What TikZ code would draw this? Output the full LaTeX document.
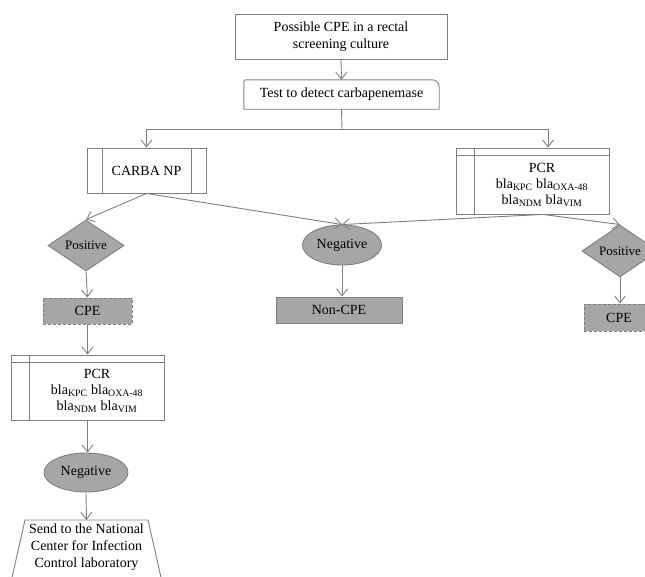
\documentclass[tikz,border=0pt]{standalone}
\usepackage{fontspec}
\setmainfont{Liberation Serif}
\usetikzlibrary{arrows.meta,shapes.geometric}
\definecolor{linegray}{HTML}{7F7F7F}
\definecolor{fillgray}{HTML}{A6A6A6}
\tikzset{
  base/.style={font=\rmfamily\fontsize{14}{17}\selectfont, align=center, inner sep=0pt, text=black},
  plainbox/.style={base, draw=linegray, line width=0.9pt, rectangle, fill=white},
  graybox/.style={base, draw=linegray, line width=0.9pt, rectangle, fill=fillgray},
  dashbox/.style={graybox, dashed, dash pattern=on 3pt off 2pt},
  decide/.style={base, draw=linegray, line width=0.9pt, diamond, fill=fillgray, font=\rmfamily\fontsize{13}{15}\selectfont},
  oval/.style={base, draw=linegray, line width=0.9pt, ellipse, fill=fillgray},
  conn/.style={draw=linegray, line width=0.9pt},
  arr/.style={conn, -{Straight Barb[length=7pt,width=11pt]}},
  frame/.style={draw=linegray, line width=0.9pt}
}
\newcommand{\blaitem}[1]{bla\textsubscript{#1}}
\begin{document}
\begin{tikzpicture}[x=1pt,y=-1pt]
\useasboundingbox (0,0) rectangle (645,576);
\clip (0,0) rectangle (645,576);

% top box
\node[plainbox, minimum width=212pt, minimum height=45pt] (top) at (341,36.5)
  {Possible CPE in a rectal\\screening culture};

% test box (rounded top corners)
\node[base, minimum width=195pt, minimum height=29pt] (test) at (341.5,94.5)
  {Test to detect carbapenemase};
\draw[frame] (test.south west) [rounded corners=2pt] -- (test.north west)
  [rounded corners=7pt] -- (test.north east) [sharp corners] -- (test.south east) -- cycle;

% CARBA NP
\node[plainbox, minimum width=119pt, minimum height=45pt] (carba) at (146.5,170.5) {CARBA NP};
\draw[frame] ([xshift=15.5pt]carba.north west) -- ([xshift=15.5pt]carba.south west);
\draw[frame] ([xshift=-15pt]carba.north east) -- ([xshift=-15pt]carba.south east);

% PCR right
\node[plainbox, minimum width=153pt, minimum height=66pt] (pcr) at (532.5,181) {};
\draw[frame] ([xshift=19pt]pcr.north west) -- ([xshift=19pt]pcr.south west);
\draw[frame] ([yshift=-8pt]pcr.north west) -- ([yshift=-8pt]pcr.north east);
\node[base, font=\rmfamily\fontsize{14}{16}\selectfont] (pcrtext) at (542,185)
  {PCR\\\blaitem{KPC} \blaitem{OXA-48}\\\blaitem{NDM} \blaitem{VIM}};

% decisions and results
\node[decide, minimum width=76pt, minimum height=51pt] (posL) at (86,245.5) {Positive};
\node[oval, minimum width=79pt, minimum height=40pt] (neg) at (342,245) {Negative};
\node[decide, minimum width=76pt, minimum height=52pt] (posR) at (620,251) {Positive};

\node[graybox, minimum width=126pt, minimum height=26pt] (noncpe) at (339,310) {Non-CPE};
\node[dashbox, minimum width=89pt, minimum height=26pt] (cpeL) at (87.5,311) {CPE};
\node[dashbox, minimum width=70pt, minimum height=27pt] (cpeR) at (619,317.5) {CPE};

% PCR lower
\node[plainbox, minimum width=153pt, minimum height=65pt] (pcr2) at (87.5,387.5) {};
\draw[frame] ([xshift=19pt]pcr2.north west) -- ([xshift=19pt]pcr2.south west);
\draw[frame] ([yshift=-8pt]pcr2.north west) -- ([yshift=-8pt]pcr2.north east);
\node[base, font=\rmfamily\fontsize{14}{16}\selectfont] (pcr2text) at (97,391)
  {PCR\\\blaitem{KPC} \blaitem{OXA-48}\\\blaitem{NDM} \blaitem{VIM}};

\node[oval, minimum width=84pt, minimum height=39pt] (neg2) at (86,472.5) {Negative};

% trapezoid (send)
\coordinate (sendtop) at (86.5,520);
\draw[frame, fill=white] (25,520) -- (148,520) -- (165,595) -- (8,595) -- cycle;
\node[base, anchor=north] (send) at (86.5,524)
  {Send to the National\\Center for Infection\\Control laboratory};

% connectors
\coordinate (split) at (342,129);
\draw[arr] (top.south) -- (test.north);
\draw[conn] (test.south) -- (split);
\draw[arr] (split) -| (carba.north);
\draw[arr] (split) -| ([xshift=15.5pt]pcr.north);

\draw[arr] (carba.south) -- (posL.north);
\draw[arr] (carba.south) -- (neg.north);
\draw[arr] ([xshift=10.5pt]pcr.south) -- (neg.north);
\draw[arr] ([xshift=10.5pt]pcr.south) -- (posR.north);

\draw[arr] (posL.south) -- (cpeL.north);
\draw[arr] (neg.south) -- (noncpe.north -| neg.south);
\draw[arr] (posR.south) -- (cpeR.north -| posR.south);

\draw[arr] (cpeL.south) -- (pcr2.north);
\draw[arr] (pcr2.south) -- (neg2.north -| pcr2.south);
\draw[arr] (neg2.south) -- (sendtop);
\end{tikzpicture}
\end{document}
